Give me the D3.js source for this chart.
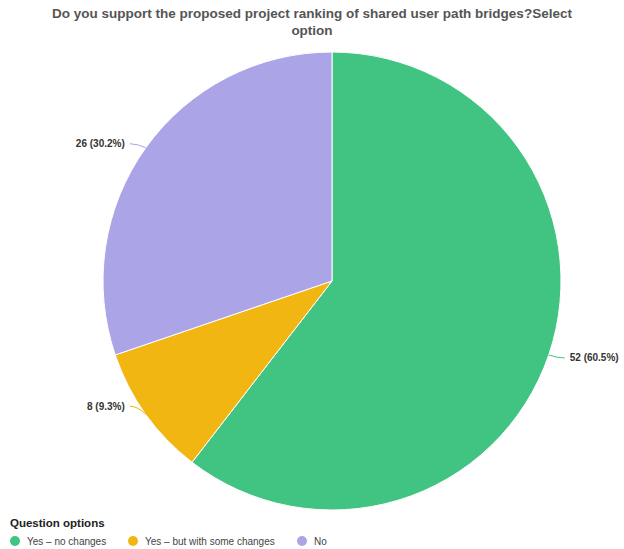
<!DOCTYPE html>
<html>
<head>
<meta charset="utf-8">
<script src="https://cdn.jsdelivr.net/npm/d3@7"></script>
<style>
  html, body { margin: 0; padding: 0; background: #fff; }
  svg { display: block; font-family: "Liberation Sans", Arial, Helvetica, sans-serif; }
</style>
</head>
<body>
<svg id="chart" width="624" height="549"></svg>
<script>
const categories = ["Yes – no changes", "Yes – but with some changes", "No"];
const counts = [52, 8, 26];
const percents = ["60.5%", "9.3%", "30.2%"];
const colors = ["#41c482", "#f1b611", "#aba4e6"];
const titleLines = ["Do you support the proposed project ranking of shared user path bridges?Select", "option"];
const legendTitle = "Question options";

const svg = d3.select("#chart");
const W = 624, H = 549;
const cx = 332, cy = 281, R = 229;

// Title
svg.append("g").selectAll("text").data(titleLines).join("text")
  .attr("x", W / 2).attr("y", (d, i) => 18 + i * 17)
  .attr("text-anchor", "middle")
  .attr("font-size", 13.5).attr("font-weight", "bold").attr("fill", "#555")
  .text(d => d);

const data = categories.map((c, i) => ({ cat: c, value: counts[i], pct: percents[i], color: colors[i] }));
const pie = d3.pie().value(d => d.value).sort(null);
const arcs = pie(data);
const arc = d3.arc().innerRadius(0).outerRadius(R);

const g = svg.append("g").attr("transform", `translate(${cx},${cy})`);
g.selectAll("path.slice").data(arcs).join("path")
  .attr("class", "slice")
  .attr("d", arc)
  .attr("fill", d => d.data.color)
  .attr("stroke", "#fff").attr("stroke-width", 1);

// Labels with leader lines
arcs.forEach(a => {
  const mid = (a.startAngle + a.endAngle) / 2;
  const px = Math.sin(mid) * R, py = -Math.cos(mid) * R;
  const right = Math.sin(mid) >= 0;
  const lower = py > 0;
  const dir = right ? 1 : -1;
  const ex = px + dir * 16;
  const ey = py + (right ? 3 : (lower ? -8 : -4));
  const qx = px + dir * 8, qy = ey;
  g.append("path")
    .attr("d", `M${px},${py} Q${qx},${qy} ${ex},${ey}`)
    .attr("fill", "none").attr("stroke", a.data.color).attr("stroke-width", 1);
  g.append("text")
    .attr("x", ex + dir * 5).attr("y", ey)
    .attr("dy", "0.35em")
    .attr("text-anchor", right ? "start" : "end")
    .attr("font-size", 10).attr("font-weight", "bold").attr("fill", "#333")
    .text(`${a.data.value} (${a.data.pct})`);
});

// Legend
svg.append("text").attr("x", 10).attr("y", 527)
  .attr("font-size", 11.5).attr("font-weight", "bold").attr("fill", "#222")
  .text(legendTitle);

const legendX = [15, 133, 302];
const lg = svg.append("g").selectAll("g").data(data).join("g")
  .attr("transform", (d, i) => `translate(${legendX[i]},541)`);
lg.append("circle").attr("r", 5).attr("fill", d => d.color);
lg.append("text").attr("x", 12).attr("dy", "0.35em")
  .attr("font-size", 10).attr("fill", "#444")
  .text(d => d.cat);
</script>
</body>
</html>
